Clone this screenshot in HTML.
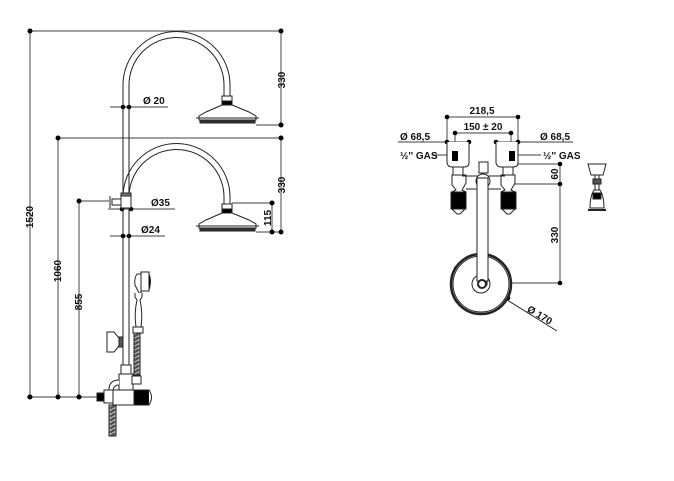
<!DOCTYPE html>
<html><head><meta charset="utf-8"><style>
html,body{margin:0;padding:0;background:#fff}
svg{display:block}
text{font-family:"Liberation Sans",sans-serif;font-weight:bold;font-size:10px;fill:#111}
</style></head><body>
<svg width="674" height="481" viewBox="0 0 674 481" xmlns="http://www.w3.org/2000/svg">
<defs>
<pattern id="hose" width="6" height="4" patternUnits="userSpaceOnUse"><rect width="6" height="4" fill="#555"/><path d="M0 0L3 2L6 0M0 4L3 2" stroke="#ccc" stroke-width="0.8" fill="none"/></pattern>
</defs>
<g stroke="#666" stroke-width="1.2" fill="none">
<!-- dims left -->
<line x1="30" y1="31" x2="281" y2="31"/>
<line x1="30" y1="31" x2="30" y2="398"/>
<line x1="281" y1="31" x2="281" y2="125"/>
<line x1="256" y1="125" x2="281" y2="125"/>
<line x1="58" y1="138" x2="281" y2="138"/>
<line x1="281" y1="138" x2="281" y2="232"/>
<line x1="272" y1="203" x2="272" y2="232"/>
<line x1="232" y1="203" x2="272" y2="203"/>
<line x1="256" y1="232" x2="281" y2="232"/>
<line x1="58" y1="138" x2="58" y2="398"/>
<line x1="79" y1="201" x2="79" y2="398"/>
<line x1="79" y1="201" x2="109" y2="201"/>
<line x1="27" y1="397" x2="100" y2="397"/>
<line x1="110" y1="107" x2="168" y2="107"/>
<line x1="108" y1="209" x2="175" y2="209"/>
<line x1="110" y1="236" x2="165" y2="236"/>
</g>
<g fill="#000">
<circle cx="30" cy="31" r="2.5"/><circle cx="281" cy="31" r="2.5"/><circle cx="281" cy="125" r="2.5"/>
<circle cx="58" cy="138" r="2.5"/><circle cx="281" cy="138" r="2.5"/><circle cx="281" cy="232" r="2.5"/>
<circle cx="272" cy="203" r="2.5"/><circle cx="272" cy="232" r="2.5"/>
<circle cx="79" cy="201" r="2.5"/>
<circle cx="30" cy="397" r="2.5"/><circle cx="58" cy="397" r="2.5"/><circle cx="79" cy="397" r="2.5"/>
<circle cx="123" cy="107" r="2.3"/><circle cx="129" cy="107" r="2.3"/>
<circle cx="122" cy="209" r="2.3"/><circle cx="131" cy="209" r="2.3"/>
<circle cx="123" cy="236" r="2.3"/><circle cx="129" cy="236" r="2.3"/>
</g>
<!-- pipes -->
<g stroke="#222" stroke-width="1" fill="none">
<line x1="123" y1="85" x2="123" y2="365"/>
<line x1="129" y1="85" x2="129" y2="365"/>
<path d="M123 85 A53.5 53.5 0 0 1 230 85 L230 96"/>
<path d="M129 85 A47.5 47.5 0 0 1 224 85 L224 96"/>
<path d="M123 197 A53.5 53.5 0 0 1 230 197 L230 204"/>
<path d="M129 197 A47.5 47.5 0 0 1 224 197 L224 204"/>
</g>
<!-- shower heads -->
<g stroke="#222" stroke-width="1" fill="#fff">
<g id="h1">
<rect x="222" y="96" width="10" height="8"/>
<rect x="222" y="101" width="10" height="4" fill="#000"/>
<path d="M222 105 L206 112 L199 116 L199 120 L256 120 L256 116 L249 112 L232 105 Z"/>
<rect x="200" y="120" width="55" height="3" fill="#333"/>
<line x1="196" y1="118" x2="259" y2="118"/>
</g>
<use href="#h1" transform="translate(0,108)"/>
</g>
<!-- diverter & connector -->
<g stroke="#222" stroke-width="1" fill="#fff">
<rect x="121" y="193" width="10" height="15"/>
<rect x="121" y="193" width="10" height="3" fill="#777"/>
<rect x="112" y="199" width="9" height="6"/>
<line x1="110" y1="196" x2="110" y2="208"/>
<!-- hand shower -->
<path d="M137 274 Q134 278 135 285 L139 293 L141 293 L141 274 Z"/>
<rect x="141" y="272" width="8" height="19"/>
<path d="M149 274 Q152 281 149 290" fill="#000"/>
<path d="M135 293 L135 297 L137 300 Q134 313 136 327 L141 327 Q143 313 140 300 L142 297 L142 293"/>
<rect x="133" y="327" width="10" height="6"/>
<rect x="134" y="333" width="6" height="42" fill="url(#hose)"/>
<!-- wall bracket -->
<path d="M107 332 L114 332 L119 338 L119 346 L114 352 L107 352 Z"/>
<rect x="119" y="337" width="4" height="10" fill="#555"/>
<!-- valve body -->
<rect x="121" y="365" width="10" height="9"/>
<rect x="119" y="374" width="14" height="31"/>
<rect x="132" y="376" width="9" height="8"/>
<path d="M119 380 Q108 380 109 392 L113 392 Q113 385 119 385"/>
<rect x="104" y="390" width="15" height="13"/>
<rect x="113" y="390" width="22" height="15"/>
<rect x="134" y="390" width="15" height="15" fill="#000"/>
<path d="M149 390 Q154 397 149 405"/>
<rect x="97" y="393" width="7" height="8" fill="#000"/>
<rect x="109" y="405" width="7" height="31" fill="url(#hose)"/>
</g>
<!-- left texts -->
<text x="143" y="104">Ø 20</text>
<text x="151" y="206">Ø35</text>
<text x="141" y="233">Ø24</text>
<text transform="translate(285,80) rotate(-90)" text-anchor="middle">330</text>
<text transform="translate(285,185) rotate(-90)" text-anchor="middle">330</text>
<text transform="translate(271,218) rotate(-90)" text-anchor="middle">115</text>
<text transform="translate(33,217) rotate(-90)" text-anchor="middle">1520</text>
<text transform="translate(61,271) rotate(-90)" text-anchor="middle">1060</text>
<text transform="translate(82,302) rotate(-90)" text-anchor="middle">855</text>

<!-- right view dims -->
<g stroke="#666" stroke-width="1.2" fill="none">
<line x1="447" y1="117" x2="518" y2="117"/>
<line x1="455" y1="133" x2="511" y2="133"/>
<line x1="398" y1="142" x2="469" y2="142"/>
<line x1="496" y1="142" x2="573" y2="142"/>
<line x1="447" y1="117" x2="447" y2="142"/>
<line x1="518" y1="117" x2="518" y2="142"/>
<line x1="455" y1="133" x2="455" y2="155"/>
<line x1="511" y1="133" x2="511" y2="155"/>
<line x1="433" y1="155" x2="453" y2="155"/>
<line x1="514" y1="155" x2="541" y2="155"/>
<line x1="518" y1="164" x2="560" y2="164"/>
<line x1="514" y1="184" x2="560" y2="184"/>
<line x1="560" y1="164" x2="560" y2="283"/>
<line x1="511" y1="283" x2="560" y2="283"/>
</g>
<line x1="454" y1="267" x2="557" y2="331" stroke="#222" stroke-width="1"/>
<g fill="#000">
<circle cx="447" cy="117" r="2.3"/><circle cx="518" cy="117" r="2.3"/>
<circle cx="455" cy="133" r="2.3"/><circle cx="511" cy="133" r="2.3"/>
<circle cx="447" cy="142" r="2.3"/><circle cx="469" cy="142" r="2.3"/>
<circle cx="496" cy="142" r="2.3"/><circle cx="518" cy="142" r="2.3"/>
<circle cx="560" cy="164" r="2.3"/><circle cx="560" cy="184" r="2.3"/><circle cx="560" cy="283" r="2.3"/>
<circle cx="457" cy="268" r="2.3"/><circle cx="508" cy="298" r="2.3"/>
</g>
<g stroke="#222" stroke-width="1" fill="#fff">
<!-- valve cups -->
<path d="M447 142 L447 163 Q448 167 452 167 L464 167 Q469 167 469 163 L469 142"/>
<path d="M496 142 L496 163 Q497 167 501 167 L513 167 Q518 167 518 163 L518 142"/>
<rect x="452" y="151" width="6" height="10" fill="#000" stroke="none"/>
<rect x="509" y="151" width="6" height="10" fill="#000" stroke="none"/>
<rect x="453" y="167" width="10" height="8"/>
<rect x="503" y="167" width="10" height="8"/>
<path d="M452 175 L452 185 L456 190 L452 192 L466 192 L462 190 L466 183 L466 175 Z"/>
<path d="M501 175 L501 185 L505 190 L501 192 L515 192 L511 190 L515 183 L515 175 Z"/>
<line x1="462" y1="176" x2="505" y2="176"/>
<line x1="466" y1="189" x2="501" y2="189"/>
<rect x="451" y="192" width="15" height="17" fill="#000"/>
<rect x="501" y="192" width="15" height="17" fill="#000"/>
<path d="M452 209 L465 209 L460 214 L457 214 Z"/>
<path d="M502 209 L515 209 L510 214 L507 214 Z"/>
<!-- spout -->
<rect x="479" y="162" width="9" height="11"/>
<circle cx="481" cy="284" r="30" stroke-width="2.5"/>
<circle cx="481" cy="284" r="28"/>
<circle cx="481" cy="284" r="9"/>
<rect x="478" y="182" width="9" height="103"/>
<circle cx="483" cy="181" r="7"/>
<rect x="477" y="178" width="11" height="103"/>
<circle cx="482" cy="284" r="4" stroke-width="2"/>
<!-- side view -->
<path d="M588 164 L606 164 L603 175 L591 175 Z"/>
<line x1="595" y1="175" x2="595" y2="194"/>
<line x1="599" y1="175" x2="599" y2="194"/>
<rect x="593" y="179" width="8" height="5" fill="#555"/>
<path d="M594 190 Q590 196 590 208 L604 208 Q604 196 600 190 Z"/>
<rect x="593" y="193" width="8" height="6" fill="#000"/>
<line x1="588" y1="210" x2="606" y2="210" stroke-width="2"/>
</g>
<text x="482" y="114" text-anchor="middle">218,5</text>
<text x="483" y="130" text-anchor="middle">150 ± 20</text>
<text x="400" y="140">Ø 68,5</text>
<text x="540" y="140">Ø 68,5</text>
<text x="400" y="159">½'' GAS</text>
<text x="543" y="159">½'' GAS</text>
<text transform="translate(558,174) rotate(-90)" text-anchor="middle">60</text>
<text transform="translate(558,235) rotate(-90)" text-anchor="middle">330</text>
<text transform="translate(538,318) rotate(31)" text-anchor="middle">Ø 170</text>
</svg>
</body></html>
